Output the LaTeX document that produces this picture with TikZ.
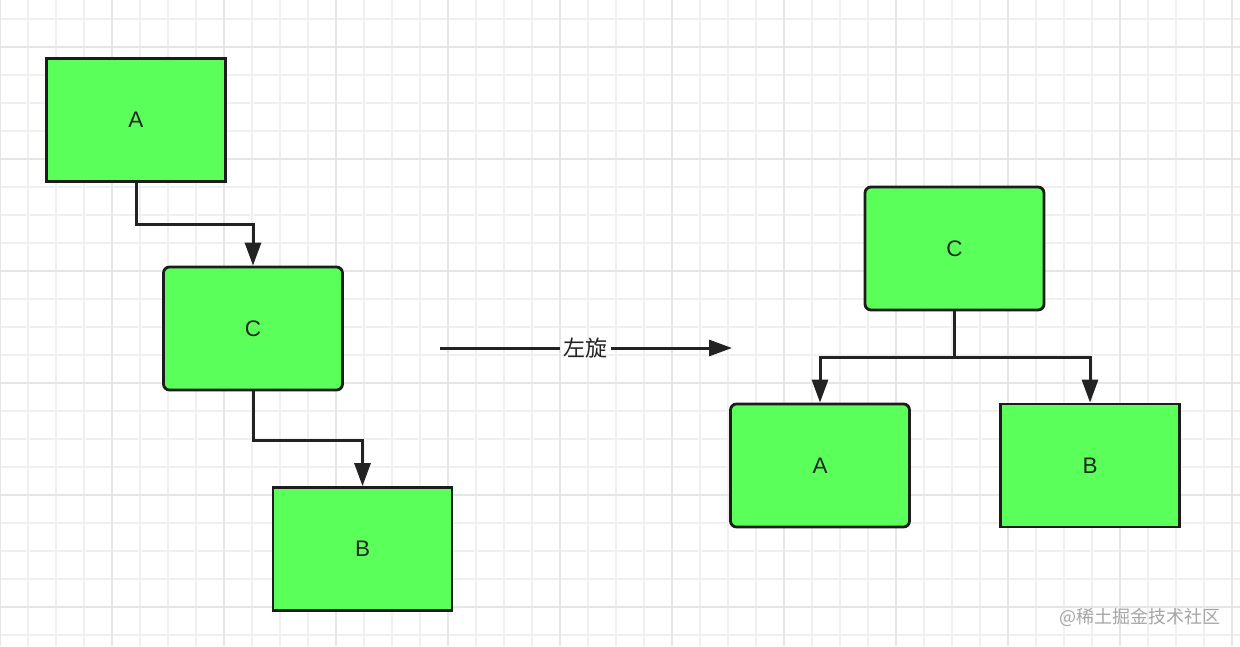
\documentclass[tikz,border=0pt]{standalone}
\usepackage{fontspec}
\setmainfont{Liberation Sans}
\newfontfamily\cjk{Noto Sans CJK SC}
\usetikzlibrary{arrows.meta}
\definecolor{boxfill}{RGB}{90,255,90}
\definecolor{boxline}{RGB}{28,28,28}
\definecolor{connline}{RGB}{34,34,34}
\definecolor{gridthin}{RGB}{240,240,240}
\definecolor{gridthick}{RGB}{230,230,230}
\definecolor{txt}{RGB}{30,40,30}
\definecolor{wm}{RGB}{165,165,165}
\tikzset{
  gthin/.style={draw=gridthin, line width=1.4pt},
  gthick/.style={draw=gridthick, line width=2.2pt},
  box/.style={rectangle, draw=boxline, fill=boxfill, line width=2.8pt,
    minimum width=179pt, minimum height=123pt, inner sep=0pt,
    text=txt, font=\fontsize{22.5}{26}\selectfont},
  rbox/.style={box, rounded corners=6pt},
  conn/.style={draw=connline, line width=3pt, -{Triangle[length=23pt,width=16pt]}},
  plain/.style={draw=connline, line width=3pt},
}
\begin{document}
\begin{tikzpicture}[x=1pt,y=-1pt]
\useasboundingbox (0,0) rectangle (1240,646);
\fill[white] (0,0) rectangle (1240,646);
% grid
\foreach \i in {0,...,44} {\draw[gthin] (\i*28,0) -- (\i*28,646);}
\foreach \j in {0,...,22} {\draw[gthin] (0,19+\j*28) -- (1240,19+\j*28);}
\foreach \i in {0,...,11} {\draw[gthick] (\i*112,0) -- (\i*112,646);}
\foreach \j in {0,...,5} {\draw[gthick] (0,47+\j*112) -- (1240,47+\j*112);}
% left tree
\node[box]  (A1) at (136,120) {A};
\node[rbox] (C1) at (253,328.5) {C};
\node[box]  (B1) at (362.5,549) {B};
\draw[conn] (A1.south) |- ([yshift=41pt]C1.north) -- (C1.north);
\draw[conn] (C1.south) |- ([yshift=46pt]B1.north) -- (B1.north);
% middle arrow
\coordinate (m1) at (440,348);
\coordinate (m2) at (732,348);
\node[text=connline, inner xsep=3pt, font=\cjk\fontsize{22}{26}\selectfont] (lbl) at (585.5,348) {左旋};
\draw[plain] (m1) -- (lbl.west);
\draw[conn] (lbl.east) -- (m2);
% right tree
\node[rbox] (C2) at (954.5,248.5) {C};
\node[rbox] (A2) at (820,465.5) {A};
\node[box]  (B2) at (1090,465.5) {B};
\draw[conn] (C2.south) |- ([yshift=45pt]A2.north) -- (A2.north);
\draw[conn] (C2.south) |- ([yshift=45pt]B2.north) -- (B2.north);
% watermark
\node[anchor=east, text=wm, inner sep=0pt, font=\cjk\fontsize{18}{22}\selectfont] (wmk) at (1221,617) {@稀土掘金技术社区};
\end{tikzpicture}
\end{document}
